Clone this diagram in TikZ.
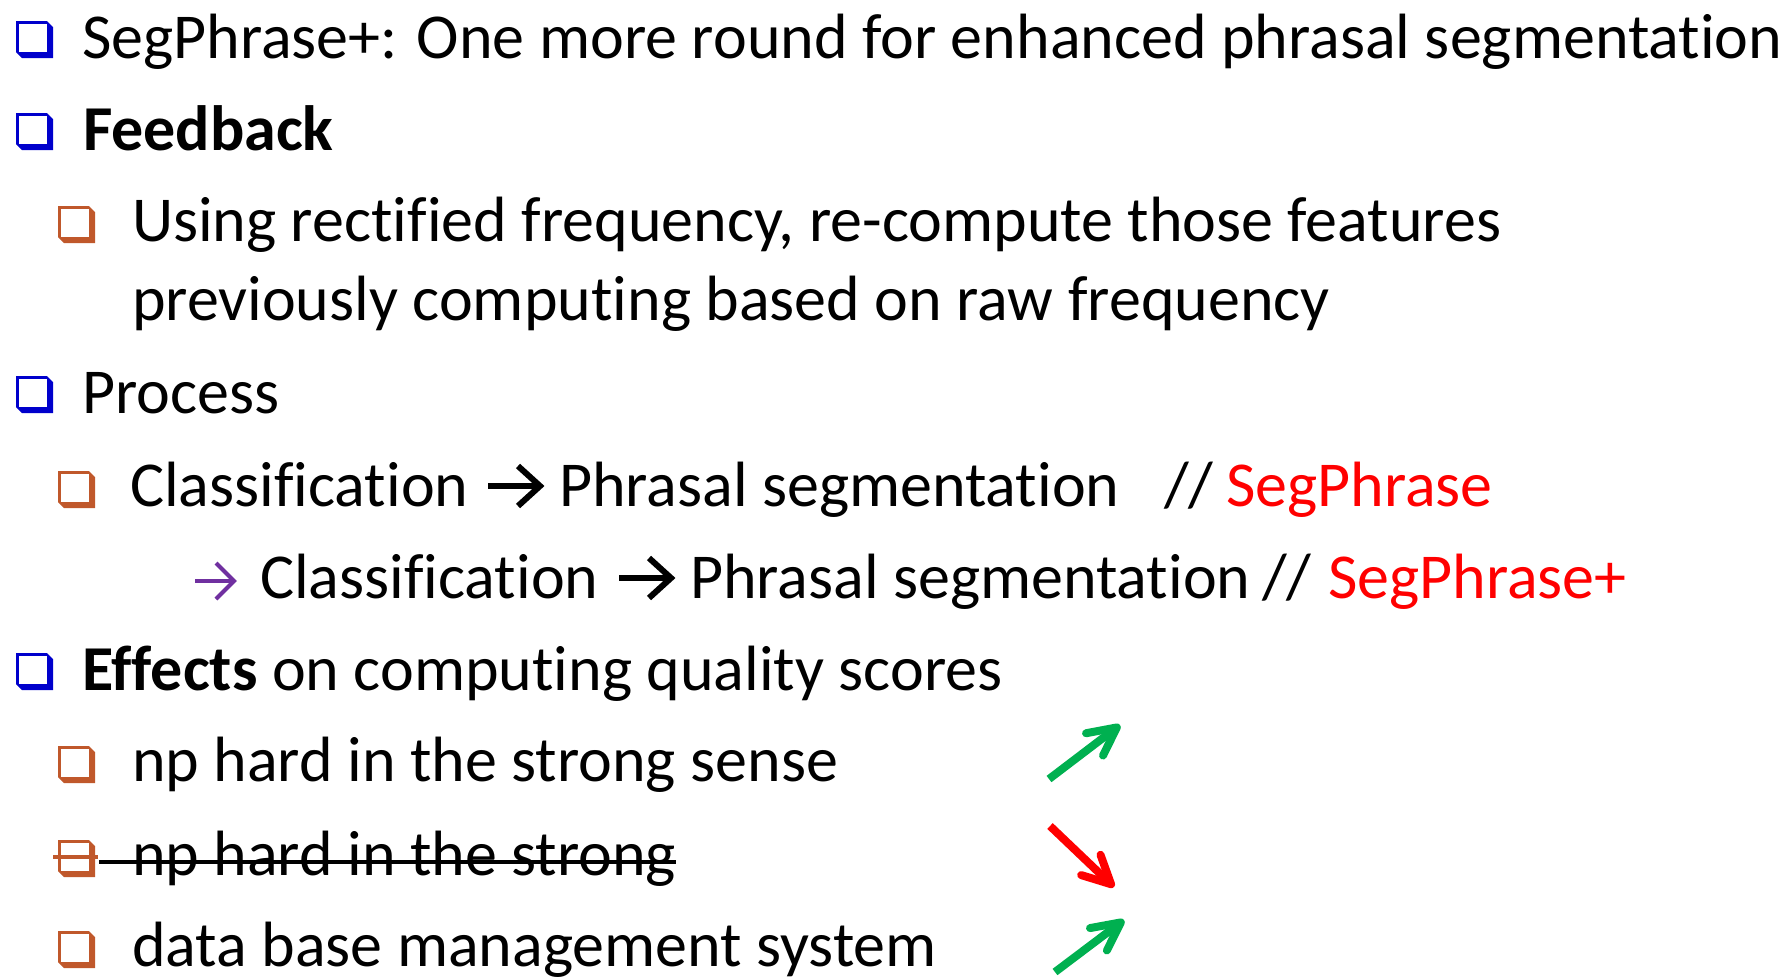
\documentclass[tikz,border=0pt]{standalone}
\usepackage{fontspec}
\setmainfont{Carlito}[Ligatures={NoCommon,NoRare,NoContextual},RawFeature={-calt}]
\usetikzlibrary{arrows.meta}
\definecolor{bblue}{HTML}{0000CC}
\definecolor{borange}{HTML}{C0582B}
\definecolor{ppurple}{HTML}{7030A0}
\definecolor{ggreen}{HTML}{00B050}
\definecolor{rred}{HTML}{FF0000}
\begin{document}
\begin{tikzpicture}[x=0.5pt,y=-0.5pt,
  txt/.style={anchor=base west, inner sep=0pt, outer sep=0pt, font=\fontsize{32}{38}\selectfont},
  qbox/.pic={\fill (0,0) -- (31,0) -- (37,6) -- (37,37) -- (6,37) -- (0,31) -- cycle;
             \fill[white] (2.5,2.5) rectangle (30.5,30.5);},
  glypharrow/.style={line width=3pt, line cap=butt, line join=miter},
  bigarrow/.style={line width=4pt, line cap=butt,
     -{Straight Barb[length=14pt,width=14pt,line cap=round,line join=round]}}]
\useasboundingbox (0,0) rectangle (1781,976);
% bullets
\pic[bblue] at (16,21) {qbox};
\pic[bblue] at (16,113) {qbox};
\pic[borange] at (58,206) {qbox};
\pic[bblue] at (16,376) {qbox};
\pic[borange] at (58,471) {qbox};
\pic[bblue] at (16,653) {qbox};
\pic[borange] at (58,746) {qbox};
\pic[borange] at (58,840) {qbox};
\pic[borange] at (58,931) {qbox};
% texts
\node[txt] (l1) at (82,58) {SegPhrase+: One more round for enhanced phrasal segmentation};
\node[txt] (l2) at (83,150) {\bfseries Feedback};
\node[txt] (l3) at (132,241) {Using rectified frequency, re-compute those features};
\node[txt] (l4) at (132,320) {previously computing based on raw frequency};
\node[txt] (l5) at (82,413) {Process};
\node[txt] (l6a) at (130,506) {Classification};
\node[txt] (l6b) at (559,506) {Phrasal segmentation};
\node[txt] (l6c) at (1164,506) {//};
\node[txt, text=rred] (l6d) at (1226,506) {SegPhrase};
\node[txt] (l7a) at (260,598) {Classification};
\node[txt] (l7b) at (690,598) {Phrasal segmentation};
\node[txt] (l7c) at (1262,598) {//};
\node[txt, text=rred] (l7d) at (1328,598) {SegPhrase+};
\node[txt] (l8) at (82,690) {\bfseries Effects\mdseries{} on computing quality scores};
\node[txt] (l9) at (132,781) {np hard in the strong sense};
\node[txt] (l10) at (132,875) {np hard in the strong};
\node[txt] (l11) at (132,966) {data base management system};
% inline arrows
\draw[glypharrow] (488,486) -- (540,486);
\draw[glypharrow] (518,466) -- (540,486) -- (518,506);
\draw[glypharrow] (619,578) -- (671,578);
\draw[glypharrow] (649,558) -- (671,578) -- (649,598);
\draw[glypharrow, ppurple, line width=2pt] (195,581) -- (234,581);
\draw[glypharrow, ppurple, line width=2pt] (216,563) -- (234,581) -- (216,599);
% strike lines
\draw[borange, line width=1.8pt] (53,857) -- (98,857);
\draw[line width=1.8pt] (99,862) -- (l10.base east |- 0,862);
% big arrows
\coordinate (a1s) at (1049,779);
\coordinate (a1e) at (1120,725);
\coordinate (a2s) at (1050,826);
\coordinate (a2e) at (1114,887);
\coordinate (a3s) at (1055,972);
\coordinate (a3e) at (1124,920);
\draw[bigarrow, ggreen] (a1s) -- (a1e);
\draw[bigarrow, rred] (a2s) -- (a2e);
\draw[bigarrow, ggreen] (a3s) -- (a3e);
\end{tikzpicture}
\end{document}
